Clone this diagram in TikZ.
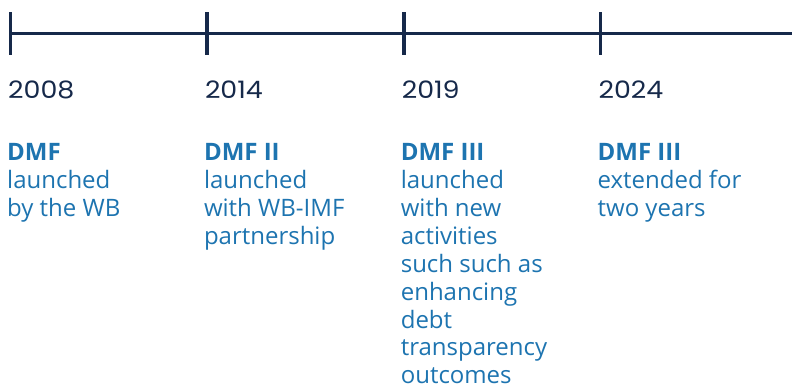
\documentclass[tikz,border=0pt]{standalone}
\usepackage{fontspec}
\setmainfont{Open Sans}
\newfontfamily\yearfont[FakeStretch=1.12]{Poppins}
\definecolor{navy}{HTML}{16294A}
\definecolor{dmfblue}{HTML}{1D74B0}
% stacked lines whose reference point is the first line's baseline
\newcommand\linestack[1]{\begin{tabular}[t]{@{}l@{}}#1\end{tabular}}
\begin{document}
\begin{tikzpicture}[x=1pt,y=-1pt,
  axis/.style={draw=navy,line width=3pt},
  tick/.style={draw=navy,line width=3.5pt},
  yearlbl/.style={anchor=base west,inner sep=0pt,text=navy,font=\yearfont\fontsize{24}{28}\selectfont},
  milestone/.style={anchor=base west,inner sep=0pt,text=dmfblue,
    font=\fontsize{24}{27.9}\selectfont}]
\useasboundingbox (0,0) rectangle (792,387);
% timeline axis and tick marks
\coordinate (tA) at (10.3,33.5);
\coordinate (tB) at (207.1,33.5);
\coordinate (tC) at (403.9,33.5);
\coordinate (tD) at (600.7,33.5);
\coordinate (tEnd) at (792,33.5);
\draw[axis] (tA) -- (tEnd);
\foreach \t in {tA,tB,tC,tD}
  \draw[tick] ([yshift=-21.5pt]\t) -- ([yshift=21.5pt]\t);
% years
\node[yearlbl] (y1) at (8,99) {2008};
\node[yearlbl] (y2) at (204.8,99) {2014};
\node[yearlbl] (y3) at (401.6,99) {2019};
\node[yearlbl] (y4) at (598.4,99) {2024};
% milestone descriptions
\node[milestone] (m1) at (7,160.7) {\linestack{\textbf{DMF}\\launched\\by the WB}};
\node[milestone] (m2) at (203.8,160.7) {\linestack{\textbf{DMF II}\\launched\\with WB-IMF\\partnership}};
\node[milestone] (m3) at (400.6,160.7) {\linestack{\textbf{DMF III}\\launched\\with new\\activities\\such such as\\enhancing\\debt\\transparency\\outcomes}};
\node[milestone] (m4) at (597.4,160.7) {\linestack{\textbf{DMF III}\\extended for\\two years}};
\end{tikzpicture}
\end{document}
